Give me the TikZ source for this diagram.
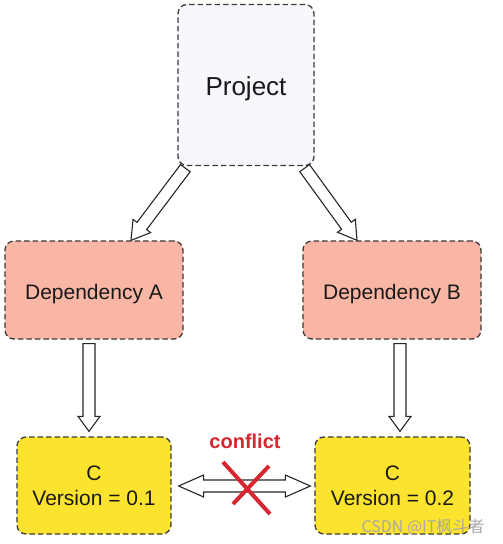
\documentclass[tikz,border=0pt]{standalone}
\usepackage{fontspec}
\setmainfont{Liberation Sans}
\newfontfamily\cjk{Noto Sans CJK SC}
\usetikzlibrary{calc}
\definecolor{projfill}{HTML}{F6F8FD}
\definecolor{depfill}{HTML}{FAB6A4}
\definecolor{cfill}{HTML}{FCE32E}
\definecolor{edgecol}{HTML}{3A3A3A}
\definecolor{xred}{HTML}{D62630}
\definecolor{wmark}{HTML}{A8A8A8}
\tikzset{
  box/.style={draw=edgecol, dash pattern=on 5.5pt off 3pt, line width=1.3pt,
    rounded corners=9pt, align=center, text=black!90, inner sep=0pt},
  arrowshape/.style={draw=black!85, line width=1.1pt, fill=white, line join=miter},
  xstroke/.style={draw=xred, line width=4pt},
}
% single block arrow: #1 start, #2 tip, #3 head length
\newcommand\blockarrow[3]{%
  \coordinate (ba-h) at ($(#2)!#3!(#1)$);
  \draw[arrowshape] ($(#1)!6pt!90:(#2)$) -- ($(ba-h)!6pt!90:(#2)$)
    -- ($(ba-h)!11pt!90:(#2)$) -- (#2) -- ($(ba-h)!11pt!-90:(#2)$)
    -- ($(ba-h)!6pt!-90:(#2)$) -- ($(#1)!6pt!-90:(#2)$) -- cycle;
}
% double-headed block arrow: #1 tip, #2 tip, #3 head length
\newcommand\dblockarrow[3]{%
  \coordinate (bl-h) at ($(#1)!#3!(#2)$);
  \coordinate (br-h) at ($(#2)!#3!(#1)$);
  \draw[arrowshape] (#1) -- ($(bl-h)!11pt!90:(#2)$) -- ($(bl-h)!6pt!90:(#2)$)
    -- ($(br-h)!6pt!-90:(#1)$) -- ($(br-h)!11pt!-90:(#1)$) -- (#2)
    -- ($(br-h)!11pt!90:(#1)$) -- ($(br-h)!6pt!90:(#1)$)
    -- ($(bl-h)!6pt!-90:(#2)$) -- ($(bl-h)!11pt!-90:(#2)$) -- cycle;
}
\begin{document}
\begin{tikzpicture}[x=1pt,y=-1pt]
\fill[white] (0,0) rectangle (503,544);
\useasboundingbox (0,0) rectangle (503,544);

\node[box, fill=projfill, minimum width=136pt, minimum height=161pt,
  font=\fontsize{26}{30}\selectfont] (proj) at (246,85) {\raisebox{-10.5pt}[0pt][0pt]{Project}};
\node[box, fill=depfill, minimum width=178pt, minimum height=98pt,
  font=\fontsize{21}{25}\selectfont] (depA) at (94,290) {\raisebox{-9pt}[0pt][0pt]{Dependency A}};
\node[box, fill=depfill, minimum width=178pt, minimum height=98pt,
  font=\fontsize{21}{25}\selectfont] (depB) at (392,290) {\raisebox{-9pt}[0pt][0pt]{Dependency B}};
\node[box, fill=cfill, minimum width=154pt, minimum height=97pt,
  font=\fontsize{21}{25}\selectfont] (cA) at (94,485.5) {C\\Version = 0.1};
\node[box, fill=cfill, minimum width=155pt, minimum height=97pt,
  font=\fontsize{21}{25}\selectfont] (cB) at (392.5,485.5) {C\\Version = 0.2};

\coordinate (a1s) at ($(proj.south west)+(8,2)$);
\coordinate (a1e) at ($(depA.north)+(37,0)$);
\coordinate (a2s) at ($(proj.south east)+(-10,2)$);
\coordinate (a2e) at ($(depB.north)+(-35,0)$);
\coordinate (a3s) at ($(depA.south)+(-5,4)$);
\coordinate (a3e) at ($(cA.north)+(-5,-5)$);
\coordinate (a4s) at ($(depB.south)+(8,4)$);
\coordinate (a4e) at ($(cB.north)+(7.5,-5)$);
\coordinate (hl) at ($(cA.east)+(7,0.5)$);
\coordinate (hr) at ($(cB.west)+(-4,0.5)$);

\blockarrow{a1s}{a1e}{18pt}
\blockarrow{a2s}{a2e}{18pt}
\blockarrow{a3s}{a3e}{15pt}
\blockarrow{a4s}{a4e}{15pt}
\dblockarrow{hl}{hr}{25pt}

\coordinate (x1) at (223,462);
\coordinate (x2) at (270,514);
\coordinate (x3) at (269,466);
\coordinate (x4) at (233,504);
\draw[xstroke] (x1) -- (x2);
\draw[xstroke] (x3) -- (x4);

\node[text=xred, font=\bfseries\fontsize{20}{24}\selectfont] (conf) at (245,441) {conflict};
\node[text=wmark, font=\cjk\fontsize{16}{18}\selectfont, anchor=base east] (wm) at (488,532) {CSDN @IT枫斗者};
\end{tikzpicture}
\end{document}
